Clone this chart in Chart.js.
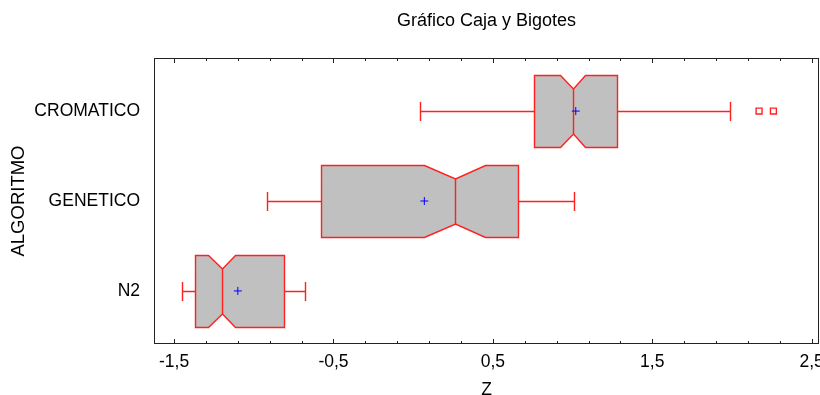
<!DOCTYPE html>
<html>
<head>
<meta charset="utf-8">
<script src="https://cdn.jsdelivr.net/npm/chart.js@4.4.0/dist/chart.umd.min.js"></script>
<style>
  html, body { margin: 0; padding: 0; background: #fff; }
  #wrap { width: 820px; height: 395px; }
</style>
</head>
<body>
<div id="wrap"><canvas id="boxChart"></canvas></div>
<script>
const categorias = ['CROMATICO', 'GENETICO', 'N2'];
const bigoteMin = [0.04, -0.92, -1.45];
const cuartil1 = [0.76, -0.58, -1.37];
const medianas = [1.00, 0.26, -1.20];
const cuartil3 = [1.28, 0.66, -0.81];
const bigoteMax = [1.99, 1.01, -0.68];
const medias = [1.02, 0.07, -1.10];
const muescas = [0.08, 0.19, 0.085];
const atipicos = [[2.17, 2.26], [], []];
const ticksX = [-1.5, -0.5, 0.5, 1.5, 2.5];

const fuente = 'Liberation Sans, Arial, sans-serif';

// cajas con muesca y bigotes, dibujadas con las escalas del grafico
const cajas = {
    id: 'cajas',
    beforeDatasetsDraw(chart) {
        const ctx = chart.ctx;
        const sx = chart.scales.x, sy = chart.scales.y;
        const unidad = Math.abs(sy.getPixelForValue(2) - sy.getPixelForValue(1));
        const alto = unidad * 0.4, hueco = unidad * 0.15, tope = unidad * 0.105;
        const px = v => Math.round(sx.getPixelForValue(v)) + 0.5;

        ctx.save();
        ctx.lineWidth = 1.4;
        ctx.strokeStyle = '#ff2020';
        categorias.forEach((c, i) => {
            const yr = sy.getPixelForValue(i + 1);
            const yc = Math.round(yr) + 0.5;
            const t = Math.round(yr - alto) + 0.5, d = Math.round(yr + alto) + 0.5;
            const a = px(cuartil1[i]), b = px(cuartil3[i]), m = px(medianas[i]);
            const ml = px(medianas[i] - muescas[i]), mr = px(medianas[i] + muescas[i]);
            const lo = px(bigoteMin[i]), hi = px(bigoteMax[i]);

            // bigotes
            ctx.beginPath();
            ctx.moveTo(lo, yc); ctx.lineTo(a, yc);
            ctx.moveTo(b, yc); ctx.lineTo(hi, yc);
            ctx.moveTo(lo, Math.round(yc - tope)); ctx.lineTo(lo, Math.round(yc + tope));
            ctx.moveTo(hi, Math.round(yc - tope)); ctx.lineTo(hi, Math.round(yc + tope));
            ctx.stroke();

            // caja
            ctx.beginPath();
            ctx.moveTo(a, t);
            ctx.lineTo(ml, t);
            ctx.lineTo(m, t + hueco);
            ctx.lineTo(mr, t);
            ctx.lineTo(b, t);
            ctx.lineTo(b, d);
            ctx.lineTo(mr, d);
            ctx.lineTo(m, d - hueco);
            ctx.lineTo(ml, d);
            ctx.lineTo(a, d);
            ctx.closePath();
            ctx.fillStyle = '#c0c0c0';
            ctx.fill();
            ctx.stroke();

            // mediana
            ctx.beginPath();
            ctx.moveTo(m, t + hueco);
            ctx.lineTo(m, d - hueco);
            ctx.stroke();
        });
        ctx.restore();
    },
    afterDraw(chart) {
        const ctx = chart.ctx;
        const area = chart.chartArea;
        const sx = chart.scales.x;
        ctx.save();
        ctx.lineWidth = 1;
        ctx.strokeStyle = '#222';
        ctx.strokeRect(area.left + 0.5, area.top + 0.5, area.right - area.left - 1, area.bottom - area.top - 1);
        ctx.beginPath();
        for (let k = 0; k <= 20; k++) {
            const v = ticksX[0] + k * 0.2;
            const x = Math.round(sx.getPixelForValue(v)) + 0.5;
            const len = (k % 5 === 0) ? 5 : 3;
            ctx.moveTo(x, area.top); ctx.lineTo(x, area.top + len);
            ctx.moveTo(x, area.bottom); ctx.lineTo(x, area.bottom - len);
        }
        ctx.stroke();
        ctx.restore();
    }
};

const datosMedias = medias.map((v, i) => ({ x: v, y: i + 1 }));
const datosAtipicos = [];
atipicos.forEach((lista, i) => lista.forEach(v => datosAtipicos.push({ x: v, y: i + 1 })));

const ctx = document.getElementById('boxChart').getContext('2d');
new Chart(ctx, {
    type: 'scatter',
    data: {
        datasets: [{
            label: 'Media',
            data: datosMedias,
            pointStyle: 'cross',
            pointRadius: 4,
            borderColor: '#0000ff',
            borderWidth: 1
        }, {
            label: 'Atipicos',
            data: datosAtipicos,
            pointStyle: 'rect',
            pointRadius: 4.2,
            backgroundColor: '#ffffff',
            borderColor: '#ff2020',
            borderWidth: 1.4
        }]
    },
    options: {
        responsive: true,
        maintainAspectRatio: false,
        animation: false,
        layout: { autoPadding: false, padding: { left: 0, right: 1, top: 0, bottom: 0 } },
        plugins: {
            legend: { display: false },
            tooltip: { enabled: false },
            title: {
                display: true,
                text: 'Gráfico Caja y Bigotes',
                fullSize: false,
                color: '#000',
                font: { family: fuente, size: 18, weight: 'normal', lineHeight: 1.2 },
                padding: { top: 10, bottom: 26.4 }
            }
        },
        scales: {
            x: {
                type: 'linear',
                min: -1.626,
                max: 2.546,
                grid: { display: false, drawTicks: false },
                border: { display: false },
                afterBuildTicks: s => { s.ticks = ticksX.map(v => ({ value: v })); },
                afterFit: s => { s.height = 51; s.paddingLeft = 0; s.paddingRight = 0; },
                ticks: {
                    autoSkip: false,
                    maxRotation: 0,
                    padding: 8,
                    color: '#000',
                    font: { family: fuente, size: 17.5 },
                    callback: v => v.toFixed(1).replace('.', ',')
                },
                title: {
                    display: true,
                    text: 'Z',
                    color: '#000',
                    font: { family: fuente, size: 17.5, lineHeight: 0.6 },
                    padding: { top: 0, bottom: 0 }
                }
            },
            y: {
                type: 'linear',
                reverse: true,
                min: 0.41,
                max: 3.59,
                grid: { display: false, drawTicks: false },
                border: { display: false },
                afterBuildTicks: s => { s.ticks = categorias.map((c, i) => ({ value: i + 1 })); },
                afterFit: s => { s.width = 154; s.paddingTop = 0; s.paddingBottom = 0; },
                ticks: {
                    padding: 14,
                    color: '#000',
                    font: { family: fuente, size: 17.5 },
                    callback: v => categorias[v - 1]
                },
                title: {
                    display: true,
                    text: 'ALGORITMO',
                    color: '#000',
                    font: { family: fuente, size: 18.5 },
                    padding: { top: 8, bottom: 0 }
                }
            }
        }
    },
    plugins: [cajas]
});
</script>
</body>
</html>
